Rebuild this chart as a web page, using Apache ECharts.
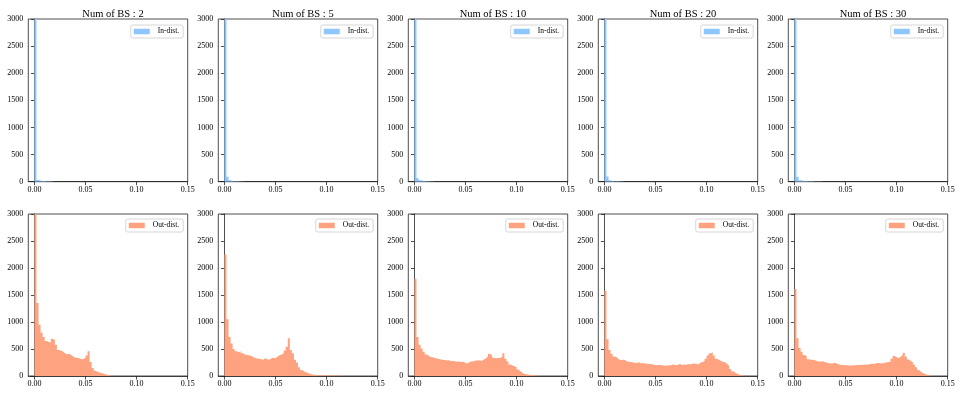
<!DOCTYPE html>
<html>
<head>
<meta charset="utf-8">
<script src="https://cdn.jsdelivr.net/npm/echarts@6/dist/echarts.min.js"></script>
<style>html,body{margin:0;padding:0;background:#fff}#c{width:960px;height:396px}</style>
</head>
<body>
<div id="c"></div>
<script>
// ---- data ----
const BIN = 0.002; // histogram bin width (bins start at 0)
const titles = ['Num of BS : 2', 'Num of BS : 5', 'Num of BS : 10', 'Num of BS : 20', 'Num of BS : 30'];
const xTicks = [0, 0.05, 0.10, 0.15];
const yTicks = [0, 500, 1000, 1500, 2000, 2500, 3000];

const inDist2  = [3000, 30, 20, 15, 12, 10, 8, 10, 5, 5];
const inDist5  = [3000, 90, 25, 15, 10, 8, 6, 5, 4, 3];
const inDist10 = [3000, 70, 25, 18, 12, 8, 6, 5, 4, 3];
const inDist20 = [3000, 95, 25, 15, 10, 8, 6, 5, 4, 3];
const inDist30 = [3000, 90, 25, 20, 15, 12, 10, 8, 6, 5, 5, 4, 3, 3];

const outDist2 = [3000, 1350, 950, 800, 720, 650, 630, 620, 690, 660, 580, 480, 470, 450, 420, 400, 410, 390, 360, 340,
  340, 330, 310, 315, 340, 380, 460, 260, 150, 95, 75, 65, 50, 40, 30, 20, 12, 5];
const outDist5 = [2250, 1050, 720, 600, 500, 460, 440, 460, 420, 400, 390, 385, 375, 355, 335, 325, 320, 310, 300, 330,
  310, 300, 330, 340, 330, 360, 385, 400, 420, 470, 540, 700, 480, 420, 300, 250, 160, 110, 85, 70,
  50, 40, 30, 22, 18, 15, 14, 12, 12, 10, 10, 10, 8, 8, 6, 6, 5, 5, 4];
const outDist10 = [1800, 720, 580, 510, 450, 400, 375, 350, 345, 335, 325, 315, 305, 300, 295, 285, 290, 275, 280, 270,
  265, 270, 260, 265, 240, 230, 260, 270, 275, 285, 285, 290, 280, 305, 330, 365, 410, 380, 340, 330,
  335, 340, 350, 420, 320, 270, 215, 195, 180, 160, 120, 85, 55, 38, 32, 22, 18, 15, 12, 10, 6];
const outDist20 = [1580, 680, 480, 410, 360, 345, 310, 290, 300, 295, 270, 265, 260, 250, 245, 240, 255, 230, 240, 230,
  225, 220, 222, 210, 205, 200, 210, 200, 195, 190, 195, 200, 205, 215, 200, 210, 220, 205, 215, 210,
  220, 215, 225, 230, 225, 215, 250, 260, 280, 320, 380, 420, 440, 380, 320, 300, 280, 265, 255, 225,
  190, 130, 90, 60, 40, 25, 15, 10, 5];
const outDist30 = [1610, 700, 520, 450, 390, 360, 310, 300, 300, 290, 280, 265, 270, 275, 255, 245, 235, 230, 235, 245,
  220, 215, 205, 205, 200, 200, 195, 195, 200, 200, 205, 205, 210, 210, 215, 210, 220, 225, 220, 235,
  240, 235, 230, 245, 250, 260, 265, 320, 370, 345, 335, 355, 390, 430, 360, 305, 280, 255, 210, 160,
  110, 75, 50, 35, 22, 12, 6];

const inSets = [inDist2, inDist5, inDist10, inDist20, inDist30];
const outSets = [outDist2, outDist5, outDist10, outDist20, outDist30];

// ---- layout ----
const FONT = "'Liberation Serif', 'Times New Roman', 'DejaVu Serif', serif";
const IN_COLOR = '#8ec7fe';
const OUT_COLOR = '#ffa27f';
const colLeft = [28.3, 218.3, 408.3, 598.3, 788.3];
const colW = 159.4;
const rows = [{top: 19, height: 162.7, legendTop: 25}, {top: 214, height: 162, legendTop: 219}];

function stepPoints(counts) {
  const pts = counts.map((c, i) => [i * BIN, c]);
  pts.push([counts.length * BIN, 0]);
  return pts;
}

const grid = [], xAxis = [], yAxis = [], series = [], legend = [], title = [];
let idx = 0;
rows.forEach((row, r) => {
  colLeft.forEach((left, c) => {
    grid.push({left: left, top: row.top, width: colW, height: row.height,
      show: true, borderColor: '#222', borderWidth: 0.8, backgroundColor: 'transparent'});
    xAxis.push({type: 'value', gridIndex: idx, min: -0.006, max: 0.15,
      axisLine: {show: true, onZero: false, lineStyle: {color: '#222', width: 0.8}},
      axisTick: {show: true, length: 3.5, lineStyle: {color: '#222', width: 0.8}, customValues: xTicks},
      axisLabel: {show: true, color: '#000', fontFamily: FONT, fontSize: 8, margin: 4,
        customValues: xTicks, formatter: v => v.toFixed(2)},
      splitLine: {show: false}});
    yAxis.push({type: 'value', gridIndex: idx, min: 0, max: 3000,
      axisLine: {show: true, lineStyle: {color: '#222', width: 0.8}},
      axisTick: {show: true, length: 3.5, lineStyle: {color: '#222', width: 0.8}, customValues: yTicks},
      axisLabel: {show: true, color: '#000', fontFamily: FONT, fontSize: 8, margin: 5,
        customValues: yTicks, formatter: v => String(Math.round(v))},
      splitLine: {show: false}});
    const isIn = r === 0;
    const name = isIn ? 'In-dist.' : 'Out-dist.';
    const color = isIn ? IN_COLOR : OUT_COLOR;
    series.push({type: 'line', name: name, xAxisIndex: idx, yAxisIndex: idx,
      data: stepPoints(isIn ? inSets[c] : outSets[c]), step: 'end', symbol: 'none', clip: true,
      color: color, itemStyle: {color: color},
      lineStyle: {width: 0, color: color}, areaStyle: {color: color, opacity: 1}, silent: true, animation: false});
    legend.push({data: [{name: name, icon: 'rect', itemStyle: {color: color}}],
      right: 960 - (left + colW - 4.5), top: row.legendTop, orient: 'vertical',
      itemWidth: 16, itemHeight: 5.5, padding: [2.5, 4, 2.5, 3],
      borderColor: '#ccc', borderWidth: 0.8, borderRadius: 2, backgroundColor: 'rgba(255,255,255,0.8)',
      textStyle: {fontFamily: FONT, fontSize: 7.5, color: '#000', padding: [0, 0, 0, 3]},
      selectedMode: false});
    if (isIn) {
      title.push({text: titles[c], left: left + colW / 2, top: 4, textAlign: 'center',
        textStyle: {fontFamily: FONT, fontSize: 10.5, fontWeight: 'normal', color: '#000'}});
    }
    idx++;
  });
});

const chart = echarts.init(document.getElementById('c'), null, {renderer: 'canvas'});
chart.setOption({animation: false, backgroundColor: '#fff', title, grid, xAxis, yAxis, series, legend});
</script>
</body>
</html>
